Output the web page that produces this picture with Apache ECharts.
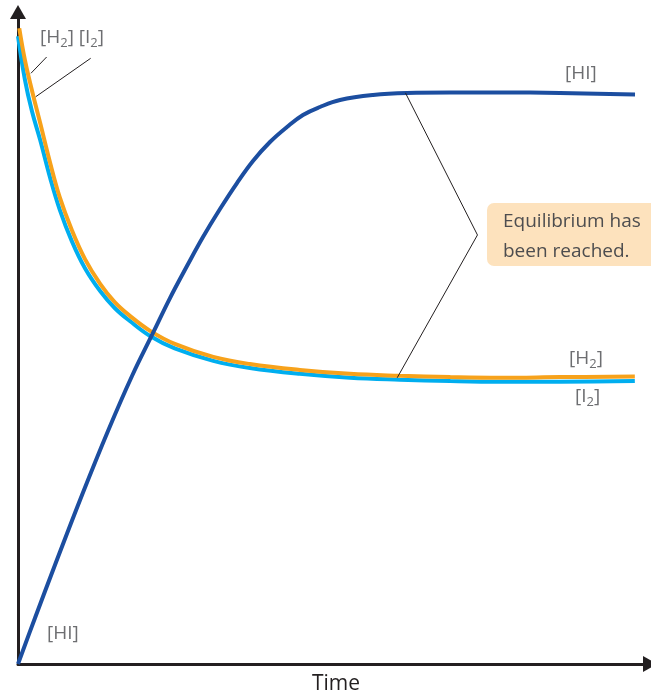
<!DOCTYPE html>
<html>
<head>
<meta charset="utf-8">
<script src="https://cdn.jsdelivr.net/npm/echarts@6/dist/echarts.min.js"></script>
<style>html,body{margin:0;padding:0;background:#fff;}#c{width:651px;height:693px;}</style>
</head>
<body>
<div id="c"></div>
<script>
// Time and concentration (arbitrary units, 0-100)
var hiTime = [0, 2.69, 5.85, 10.13, 14.24, 18.04, 21.36, 24.05, 26.74, 29.27, 31.96, 34.65, 37.18, 39.87, 42.56, 45.09, 47.78, 50.95, 56.17, 61.55, 68.35, 76.27, 85.76, 97.63];
var hiConc = [0, 7.06, 15.18, 25.92, 35.74, 44.17, 50.77, 56.13, 61.04, 65.49, 69.79, 73.77, 77.15, 80.06, 82.36, 84.2, 85.43, 86.5, 87.27, 87.58, 87.65, 87.65, 87.58, 87.35];

var h2Time = [0.2, 1.1, 2.2, 3.5, 5.1, 6.6, 8.5, 10.6, 13.0, 15.3, 17.7, 20.9, 24.8, 30.9, 36.7, 44.6, 52.5, 60.4, 68.4, 76.3, 85.8, 97.6];
var h2Conc = [97.5, 92.6, 88.0, 83.0, 76.8, 71.6, 66.6, 62.1, 58.3, 55.5, 53.4, 51.1, 49.1, 47.1, 46.0, 45.1, 44.5, 44.2, 44.0, 43.9, 44.0, 44.1];

var i2Time = [0, 1.1, 2.2, 3.5, 5.1, 6.6, 8.5, 10.6, 13.0, 15.3, 17.7, 20.9, 24.8, 30.9, 36.7, 44.6, 52.5, 60.4, 68.4, 76.3, 85.8, 97.6];
var i2Conc = [96.3, 89.6, 84.8, 80.4, 74.5, 69.7, 64.9, 60.7, 57.2, 54.6, 52.6, 50.3, 48.4, 46.5, 45.4, 44.5, 43.9, 43.6, 43.4, 43.3, 43.3, 43.4];

// Leader lines (data coordinates)
var leaderLines = [
  [[4.53, 93.1], [2.05, 90.6]],
  [[11.5, 92.9], [2.8, 87.0]],
  [[61.3, 87.6], [72.7, 65.8]],
  [[60.0, 43.9], [72.7, 65.8]]
];

function pairs(t, c) { return t.map(function (v, i) { return [v, c[i]]; }); }

var chart = echarts.init(document.getElementById('c'), null, {renderer: 'canvas'});
var FONT = '"Open Sans", "Noto Sans", sans-serif';
var GRAY = '#6d6e71';
function sub(base, s) { return '{a|' + base + '}{s|' + s + '}{a|]}'; }
var richStyle = {
  a: {fontSize: 19, fontFamily: FONT, fill: GRAY, lineHeight: 24, verticalAlign: 'middle'},
  s: {fontSize: 13, fontFamily: FONT, fill: GRAY, verticalAlign: 'bottom', lineHeight: 24}
};

chart.setOption({
  animation: false,
  grid: {left: 18, right: 1, top: 12, bottom: 29},
  xAxis: {
    type: 'value', min: 0, max: 100,
    axisLine: {show: true, lineStyle: {color: '#231f20', width: 3}, symbol: ['none', 'triangle'], symbolSize: [16, 14]},
    axisTick: {show: false}, axisLabel: {show: false}, splitLine: {show: false}
  },
  yAxis: {
    type: 'value', min: 0, max: 100,
    axisLine: {show: true, lineStyle: {color: '#231f20', width: 3}, symbol: ['none', 'triangle'], symbolSize: [16, 14]},
    axisTick: {show: false}, axisLabel: {show: false}, splitLine: {show: false}
  },
  series: [
    {
      name: '[I2]', type: 'line', data: pairs(i2Time, i2Conc), smooth: 0.4, symbol: 'none',
      lineStyle: {color: '#00aeef', width: 4}, z: 2
    },
    {
      name: '[H2]', type: 'line', data: pairs(h2Time, h2Conc), smooth: 0.4, symbol: 'none',
      lineStyle: {color: '#f7a21b', width: 4}, z: 3,
      markLine: {
        silent: true, symbol: ['none', 'none'], label: {show: false},
        lineStyle: {color: '#231f20', width: 1, type: 'solid'},
        data: leaderLines.map(function (l) { return [{coord: l[0]}, {coord: l[1]}]; })
      }
    },
    {
      name: '[HI]', type: 'line', data: pairs(hiTime, hiConc), smooth: 0.4, symbol: 'none',
      lineStyle: {color: '#1c4ea0', width: 4}, z: 4
    }
  ],
  graphic: [
    {type: 'text', left: 40, top: 28, style: {text: sub('[H', '2') + '{a| }' + sub('[I', '2'), rich: richStyle}},
    {type: 'text', left: 565, top: 64, style: {text: '[HI]', font: '19px ' + FONT, fill: GRAY}},
    {type: 'text', left: 569, top: 349, style: {text: sub('[H', '2'), rich: richStyle}},
    {type: 'text', left: 575, top: 387, style: {text: sub('[I', '2'), rich: richStyle}},
    {type: 'text', left: 47, top: 624, style: {text: '[HI]', font: '19px ' + FONT, fill: GRAY}},
    {type: 'rect', left: 487, top: 203, shape: {width: 175, height: 63, r: 7}, style: {fill: '#fde2bd'}},
    {type: 'text', left: 503, top: 207, style: {text: 'Equilibrium has\nbeen reached.', font: '19px ' + FONT, fill: '#4d4d4f', lineHeight: 30}},
    {type: 'text', left: 312, top: 674, style: {text: 'Time', font: '21px ' + FONT, fill: '#231f20'}}
  ]
});
</script>
</body>
</html>
